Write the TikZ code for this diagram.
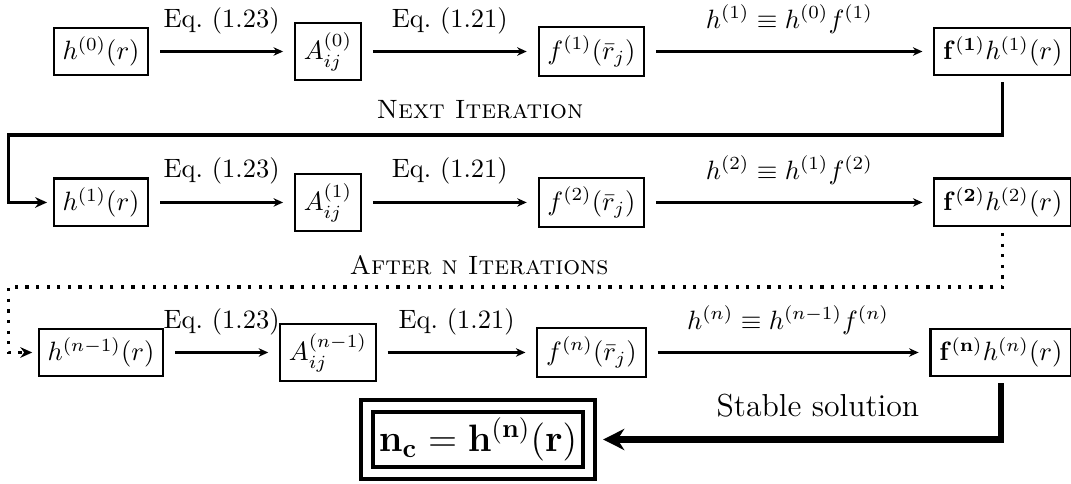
\documentclass[tikz,border=0pt]{standalone}
\usepackage{amsmath}
\usepackage{tikz}
\usetikzlibrary{arrows.meta,positioning}

\tikzset{
  calcbox/.style={draw,thick,outer sep=2.5pt},
  eqarrow/.style={thick,shorten >=2pt,shorten <=2pt,-{Stealth[length=3.6pt,width=3.2pt]}},
  eqlabel/.style={above=3pt},
  loopline/.style={very thick,-{Stealth[length=4.5pt,width=4pt]}},
}

\begin{document}
\begin{tikzpicture}
        \useasboundingbox (0,0) rectangle (14.205,6.419);

        % first pass
        \node[calcbox] (h0) at (1.340,5.736) {$h^{(0)}(r)$};
        \node[calcbox] (a0) at (4.350,5.736) {$A_{ij}^{(0)}$};
        \node[calcbox] (f1) at (7.845,5.736) {$f^{(1)}(\bar{r}_j)$};
        \node[calcbox,anchor=east] (fh1) at (14.295,5.736) {$\mathbf{f^{(1)}}h^{(1)}(r)$};
        \draw[eqarrow] (h0) -- node[eqlabel] {Eq.~(1.23)} (a0);
        \draw[eqarrow] (a0) -- node[eqlabel] {Eq.~(1.21)} (f1);
        \draw[eqarrow] (f1) -- node[eqlabel] {$h^{(1)}\equiv h^{(0)}f^{(1)}$} (fh1);

        \node (nextlbl) at (6.366,4.960) {\textsc{Next Iteration}};
        \coordinate (back1) at (0.114,4.629);

        % second pass
        \node[calcbox] (h1) at (1.340,3.734) {$h^{(1)}(r)$};
        \node[calcbox] (a1) at (4.350,3.734) {$A_{ij}^{(1)}$};
        \node[calcbox] (f2) at (7.845,3.734) {$f^{(2)}(\bar{r}_j)$};
        \node[calcbox,anchor=east] (fh2) at (14.295,3.734) {$\mathbf{f^{(2)}}h^{(2)}(r)$};
        \draw[eqarrow] (h1) -- node[eqlabel] {Eq.~(1.23)} (a1);
        \draw[eqarrow] (a1) -- node[eqlabel] {Eq.~(1.21)} (f2);
        \draw[eqarrow] (f2) -- node[eqlabel] {$h^{(2)}\equiv h^{(1)}f^{(2)}$} (fh2);
        \draw[loopline] (fh1.south) |- (back1) |- (h1.west);

        \node (afterlbl) at (6.353,2.905) {\textsc{After n Iterations}};
        \coordinate (back2) at (0.114,2.613);

        % n-th pass
        \node[calcbox] (h3) at (1.340,1.744) {$h^{(n-1)}(r)$};
        \node[calcbox] (a3) at (4.350,1.744) {$A_{ij}^{(n-1)}$};
        \node[calcbox] (f3) at (7.845,1.744) {$f^{(n)}(\bar{r}_j)$};
        \node[calcbox,anchor=east] (fh3) at (14.295,1.744) {$\mathbf{f^{(n)}}h^{(n)}(r)$};
        \draw[eqarrow] (h3) -- node[eqlabel] {Eq.~(1.23)} (a3);
        \draw[eqarrow] (a3) -- node[eqlabel] {Eq.~(1.21)} (f3);
        \draw[eqarrow] (f3) -- node[eqlabel] {$h^{(n)}\equiv h^{(n-1)}f^{(n)}$} (fh3);
        \draw[loopline,dash pattern=on 1.2pt off 2.8pt] (fh2.south) |- (back2) |- (h3.west);

        % result
        \node[draw,line width=1.6pt,double,double distance=2.8pt,inner sep=4.5pt,outer sep=5.3pt]
          (nc) at (6.340,0.590) {\Large$\mathbf{n_c = h^{(n)}(r)}$};
        \draw[line width=2.4pt,-{Stealth[length=8pt,width=8pt]}] (fh3.south)
          |- node[pos=0.73,above=4pt,font=\large] {Stable solution} (nc.east);
      \end{tikzpicture}
\end{document}
